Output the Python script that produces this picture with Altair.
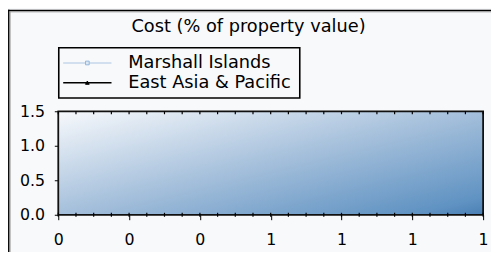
import altair as alt
import pandas as pd

# ---- data (the reference chart shows no plotted observations) ----
series_names = ["Marshall Islands", "East Asia & Pacific"]
series_colors = ["#a9c6e3", "#000000"]
marker_fill = ["#dce8f4", "#000000"]
marker_stroke = ["#93b6db", "#000000"]
marker_shapes = ["square", "triangle-up"]
x_values = []
marshall_values = []
eap_values = []
x_tick_values = [0, 0.2, 0.4, 0.6, 0.8, 1.0, 1.2]
y_tick_values = [0, 0.5, 1.0, 1.5]
minor_tick_values = [0, 0.05, 0.1, 0.15, 0.2, 0.25, 0.3, 0.35, 0.4, 0.45, 0.5, 0.55,
                     0.6, 0.65, 0.7, 0.75, 0.8, 0.85, 0.9, 0.95, 1.0, 1.05, 1.1, 1.15, 1.2]
x_domain = [0, 1.2]
y_domain = [0, 1.5]
title_text = "Cost (% of property value)"

W, H = 431, 105
FONT = "DejaVu Sans"
FS = 16
TFS = 18

rows = []
for name, vals in zip(series_names, [marshall_values, eap_values]):
    for xv, v in zip(x_values, vals):
        rows.append({"x": xv, "value": v, "series": name})
data = pd.DataFrame(rows, columns=["x", "value", "series"])

xscale = alt.Scale(domain=x_domain, nice=False, zero=False)
yscale = alt.Scale(domain=y_domain, nice=False, zero=False)
xaxis = alt.Axis(values=x_tick_values, format=".0f", title=None, domain=False, grid=False,
                 tickSize=5, tickColor="black", labelColor="black", labelFont=FONT,
                 labelFontSize=FS, labelPadding=12, labelFlush=False, labelOverlap=False)
yaxis = alt.Axis(values=y_tick_values, format=".1f", title=None, domain=False, grid=False,
                 tickSize=4, tickColor="black", labelColor="black", labelFont=FONT,
                 labelFontSize=FS, labelPadding=10, labelFlush=False, labelOverlap=False)

box = pd.DataFrame({"x0": [x_domain[0]], "x1": [x_domain[1]],
                    "y0": [y_domain[0]], "y1": [y_domain[1]]})
bg = alt.Chart(box).mark_rect(
    fill=alt.Gradient(gradient="linear", x1=0, y1=0, x2=1, y2=1,
                      stops=[alt.GradientStop(offset=0, color="#f7f9fc"),
                             alt.GradientStop(offset=0.5, color="#a4bfdb"),
                             alt.GradientStop(offset=0.92, color="#5f92c2"),
                             alt.GradientStop(offset=1, color="#4a7fb4")]),
    stroke="#111", strokeWidth=1.8
).encode(
    x=alt.X("x0:Q", scale=xscale, axis=xaxis), x2="x1:Q",
    y=alt.Y("y0:Q", scale=yscale, axis=yaxis), y2="y1:Q",
)

color_scale = alt.Scale(domain=series_names, range=series_colors)
lines = alt.Chart(data).mark_line(strokeWidth=1).encode(
    x=alt.X("x:Q", scale=xscale, axis=xaxis),
    y=alt.Y("value:Q", scale=yscale, axis=yaxis),
    color=alt.Color("series:N", scale=color_scale, legend=None),
)

ticks = pd.DataFrame({"t": minor_tick_values})
top_ticks = alt.Chart(ticks).mark_rule(color="black", strokeWidth=1.2).encode(
    x=alt.X("t:Q", scale=xscale, axis=xaxis), y=alt.value(0), y2=alt.value(3))
bottom_ticks = alt.Chart(ticks).mark_rule(color="black", strokeWidth=1.2).encode(
    x=alt.X("t:Q", scale=xscale, axis=xaxis), y=alt.value(H - 2), y2=alt.value(H + 2))

# outer frame of the picture (top and left edges)
frame = []
frame.append(alt.Chart(box).mark_rule(color="black", strokeWidth=1.5).encode(
    x=alt.value(-50.2), y=alt.value(-103), y2=alt.value(H + 40)))
frame.append(alt.Chart(box).mark_rule(color="#999", strokeWidth=1).encode(
    x=alt.value(-48.9), y=alt.value(-101.5), y2=alt.value(H + 40)))
frame.append(alt.Chart(box).mark_rule(color="black", strokeWidth=1.5).encode(
    y=alt.value(-102.2), x=alt.value(-51), x2=alt.value(W + 20)))
frame.append(alt.Chart(box).mark_rule(color="#999", strokeWidth=1).encode(
    y=alt.value(-100.9), x=alt.value(-49.5), x2=alt.value(W + 20)))

title = alt.Chart(box).mark_text(text=title_text, font=FONT, fontSize=TFS, color="black",
                                 align="center", baseline="middle").encode(
    x=alt.value(193), y=alt.value(-85))

# legend (drawn by hand: line + marker + label per series, in a framed box)
legend = [alt.Chart(box).mark_rect(fill="#f8f9fb", stroke="black", strokeWidth=1.6).encode(
    x=alt.value(0.5), x2=alt.value(245), y=alt.value(-64.5), y2=alt.value(-13.5))]
row_y = [-49, -29]
line_widths = [1.2, 1.5]
for i, name in enumerate(series_names):
    legend.append(alt.Chart(box).mark_rule(color=series_colors[i], strokeWidth=line_widths[i]).encode(
        x=alt.value(5), x2=alt.value(54), y=alt.value(row_y[i])))
    legend.append(alt.Chart(box).mark_point(
        shape=marker_shapes[i], filled=True, fill=marker_fill[i], stroke=marker_stroke[i],
        strokeWidth=1, size=14, opacity=1).encode(
        x=alt.value(29.5), y=alt.value(row_y[i])))
    legend.append(alt.Chart(box).mark_text(
        text=name, font=FONT, fontSize=TFS, color="black", align="left",
        baseline="middle").encode(x=alt.value(71), y=alt.value(row_y[i] + 0.5)))

chart = alt.layer(bg, lines, top_ticks, bottom_ticks, *frame, title, *legend).properties(
    width=W, height=H,
    autosize=alt.AutoSizeParams(type="none"),
    padding={"left": 51, "top": 103, "right": 8, "bottom": 36},
    background="#f8f9fb",
).configure_view(stroke=None)

chart.save("out.html", embed_options={"renderer": "svg", "actions": False})
